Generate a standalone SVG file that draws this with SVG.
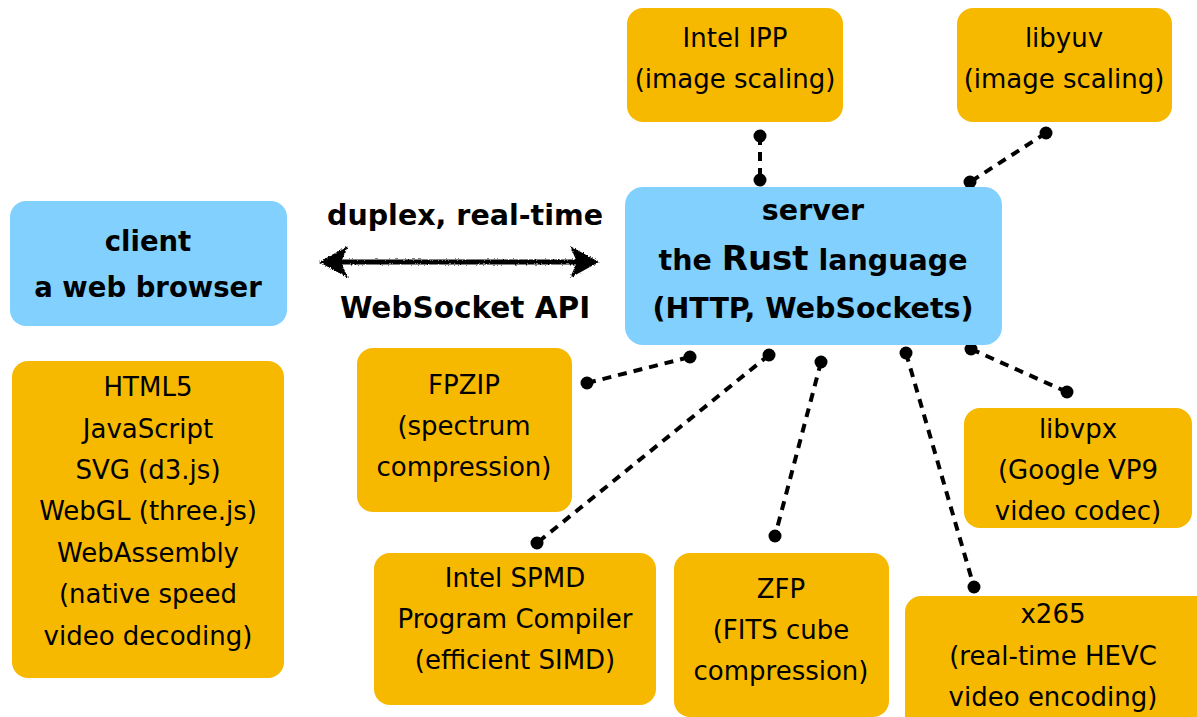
<svg xmlns="http://www.w3.org/2000/svg" width="1197" height="717" viewBox="0 0 1197 717">
<defs>
<style>
.o{fill:#F6B900}
.b{fill:#81D0FE}
.t{font-family:"DejaVu Sans",sans-serif;font-size:26px;fill:#000;text-anchor:middle}
.bt{font-family:"DejaVu Sans",sans-serif;font-weight:bold;font-size:28.5px;fill:#000;text-anchor:middle}
.c{stroke:#000;stroke-width:4;stroke-dasharray:9 7;fill:none}
.d{fill:#000}
</style>
<filter id="rough" x="-10%" y="-50%" width="120%" height="200%">
<feTurbulence type="fractalNoise" baseFrequency="0.6" numOctaves="2" seed="3" result="n"/>
<feDisplacementMap in="SourceGraphic" in2="n" scale="3" xChannelSelector="R" yChannelSelector="G"/>
</filter>
</defs>
<rect width="1197" height="717" fill="#fff"/>

<g id="connectors">
<line class="c" x1="760" y1="136" x2="760" y2="180"/>
<circle class="d" cx="760" cy="136" r="6.5"/><circle class="d" cx="760" cy="180" r="6.5"/>
<line class="c" x1="1046" y1="133" x2="970" y2="182"/>
<circle class="d" cx="1046" cy="133" r="6.5"/><circle class="d" cx="970" cy="182" r="6.5"/>
<line class="c" x1="587" y1="383" x2="690" y2="357"/>
<circle class="d" cx="587" cy="383" r="6.5"/><circle class="d" cx="690" cy="357" r="6.5"/>
<line class="c" x1="769" y1="355" x2="537" y2="543"/>
<circle class="d" cx="769" cy="355" r="6.5"/><circle class="d" cx="537" cy="543" r="6.5"/>
<line class="c" x1="821" y1="362" x2="775" y2="536"/>
<circle class="d" cx="821" cy="362" r="6.5"/><circle class="d" cx="775" cy="536" r="6.5"/>
<line class="c" x1="906" y1="353" x2="974" y2="587"/>
<circle class="d" cx="906" cy="353" r="6.5"/><circle class="d" cx="974" cy="587" r="6.5"/>
<line class="c" x1="971" y1="349" x2="1067" y2="392"/>
<circle class="d" cx="971" cy="349" r="6.5"/><circle class="d" cx="1067" cy="392" r="6.5"/>
<g id="duplex-arrow" filter="url(#rough)">
<line x1="335" y1="262" x2="583" y2="262" stroke="#000" stroke-width="5"/>
<polygon points="319,262 348,246 341,262 348,278" fill="#000"/>
<polygon points="599,262 570,246 577,262 570,278" fill="#000"/>
</g>
<text class="bt" x="465" y="225">duplex, real-time</text>
<text class="bt" x="465" y="318" style="font-size:29.5px">WebSocket API</text>
</g>

<g id="client">
<rect class="b" x="10" y="201" width="277" height="125" rx="16"/>
<text class="bt" x="148" y="251" style="font-size:27.5px">client</text>
<text class="bt" x="148" y="297" style="font-size:27.5px">a web browser</text>
</g>

<g id="server">
<rect class="b" x="625" y="187" width="377" height="158" rx="18"/>
<text class="bt" x="813" y="220">server</text>
<text class="bt" x="813" y="270">the <tspan style="font-size:34px">Rust</tspan> language</text>
<text class="bt" x="813" y="318">(HTTP, WebSockets)</text>
</g>

<g id="intel-ipp">
<rect class="o" x="627" y="8" width="216" height="114" rx="16"/>
<text class="t" x="735" y="47">Intel IPP</text>
<text class="t" x="735" y="88">(image scaling)</text>
</g>

<g id="libyuv">
<rect class="o" x="957" y="8" width="215" height="114" rx="16"/>
<text class="t" x="1064" y="47">libyuv</text>
<text class="t" x="1064" y="88">(image scaling)</text>
</g>

<g id="html5">
<rect class="o" x="12" y="361" width="272" height="317" rx="16"/>
<text class="t" x="148" y="396">HTML5</text>
<text class="t" x="148" y="438">JavaScript</text>
<text class="t" x="148" y="479">SVG (d3.js)</text>
<text class="t" x="148" y="520">WebGL (three.js)</text>
<text class="t" x="148" y="562">WebAssembly</text>
<text class="t" x="148" y="603">(native speed</text>
<text class="t" x="148" y="645">video decoding)</text>
</g>

<g id="fpzip">
<rect class="o" x="357" y="348" width="215" height="164" rx="16"/>
<text class="t" x="464" y="394">FPZIP</text>
<text class="t" x="464" y="435">(spectrum</text>
<text class="t" x="464" y="476">compression)</text>
</g>

<g id="libvpx">
<rect class="o" x="964" y="408" width="228" height="120" rx="16"/>
<text class="t" x="1078" y="438">libvpx</text>
<text class="t" x="1078" y="479">(Google VP9</text>
<text class="t" x="1078" y="520">video codec)</text>
</g>

<g id="spmd">
<rect class="o" x="374" y="553" width="282" height="152" rx="16"/>
<text class="t" x="515" y="587">Intel SPMD</text>
<text class="t" x="515" y="628">Program Compiler</text>
<text class="t" x="515" y="669">(efficient SIMD)</text>
</g>

<g id="zfp">
<rect class="o" x="674" y="553" width="215" height="164" rx="16"/>
<text class="t" x="781" y="598">ZFP</text>
<text class="t" x="781" y="639">(FITS cube</text>
<text class="t" x="781" y="680">compression)</text>
</g>

<g id="x265">
<rect class="o" x="905" y="596" width="310" height="140" rx="16"/>
<text class="t" x="1053" y="623">x265</text>
<text class="t" x="1053" y="665">(real-time HEVC</text>
<text class="t" x="1053" y="706">video encoding)</text>
</g>
</svg>
